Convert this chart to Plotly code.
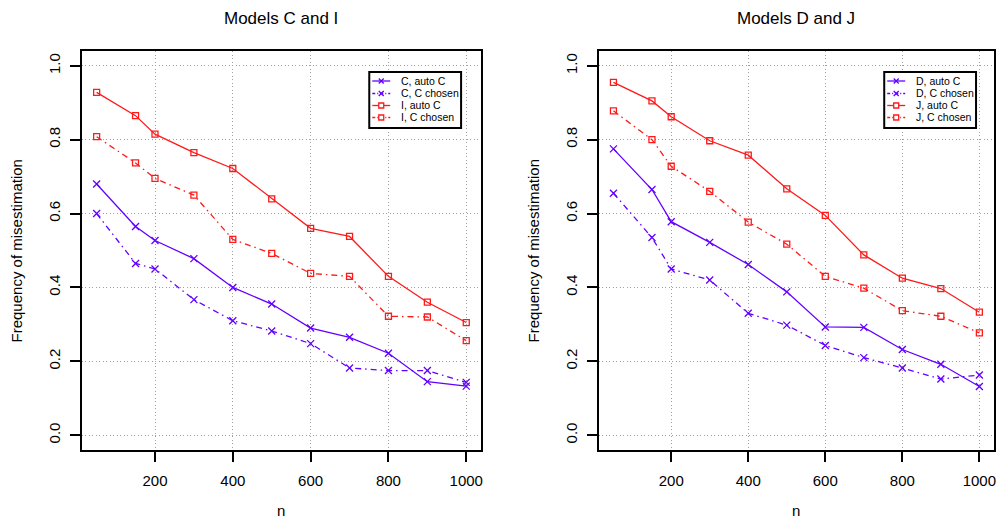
import plotly.graph_objects as go

# ---- data ----
n_values = [50, 150, 200, 300, 400, 500, 600, 700, 800, 900, 1000]

C_auto = [0.680, 0.565, 0.527, 0.478, 0.400, 0.355, 0.290, 0.265, 0.222, 0.145, 0.133]
C_chosen = [0.600, 0.465, 0.450, 0.367, 0.310, 0.282, 0.248, 0.182, 0.175, 0.175, 0.143]
I_auto = [0.928, 0.865, 0.815, 0.765, 0.722, 0.640, 0.560, 0.538, 0.430, 0.360, 0.305]
I_chosen = [0.808, 0.737, 0.695, 0.650, 0.530, 0.492, 0.438, 0.430, 0.322, 0.320, 0.256]

D_auto = [0.775, 0.665, 0.578, 0.522, 0.462, 0.388, 0.293, 0.292, 0.232, 0.192, 0.132]
D_chosen = [0.655, 0.535, 0.450, 0.420, 0.330, 0.298, 0.243, 0.210, 0.182, 0.152, 0.163]
J_auto = [0.955, 0.905, 0.862, 0.797, 0.758, 0.667, 0.595, 0.488, 0.425, 0.397, 0.333]
J_chosen = [0.878, 0.800, 0.728, 0.660, 0.577, 0.517, 0.430, 0.398, 0.337, 0.322, 0.277]

x_ticks = [200, 400, 600, 800, 1000]
y_ticks = [0.0, 0.2, 0.4, 0.6, 0.8, 1.0]
y_tick_labels = ["0.0", "0.2", "0.4", "0.6", "0.8", "1.0"]

panel_titles = ["Models C and I", "Models D and J"]
x_title = "n"
y_title = "Frequency of misestimation"

# ---- style / geometry ----
PAGE_OFF = 8                      # default body margin of the html page
W, H = 1006 - 2 * PAGE_OFF, 529 - 2 * PAGE_OFF
BLUE = "#6400ff"
RED = "#ff1a1a"
FONT = "Liberation Sans, Arial, sans-serif"
DASHDOT = "6px,4px,1.5px,4px"


def fx(px):
    return (px - PAGE_OFF) / W


def fy(py):
    return 1 - (py - PAGE_OFF) / H


panels = [
    ([("C, auto C", C_auto, BLUE, "solid", "x"),
      ("C, C chosen", C_chosen, BLUE, DASHDOT, "x"),
      ("I, auto C", I_auto, RED, "solid", "square"),
      ("I, C chosen", I_chosen, RED, DASHDOT, "square")]),
    ([("D, auto C", D_auto, BLUE, "solid", "x"),
      ("D, C chosen", D_chosen, BLUE, DASHDOT, "x"),
      ("J, auto C", J_auto, RED, "solid", "square"),
      ("J, C chosen", J_chosen, RED, DASHDOT, "square")]),
]

left_px = [(82, 482), (600, 996)]
top_px, bottom_px = 51, 450
legend_box = [(370, 462), (886, 978)]   # x extents of the legend boxes
legend_top, legend_bottom = 72, 128
legend_rows = [81, 93.5, 105.5, 117.5]

fig = go.Figure()
shapes = []
annotations = []

for i, series in enumerate(panels):
    sfx = "" if i == 0 else "2"
    for name, vals, col, dash, sym in series:
        fig.add_trace(go.Scatter(
            x=n_values, y=vals, name=name, xaxis="x" + sfx, yaxis="y" + sfx,
            mode="lines+markers", showlegend=False,
            line=dict(color=col, width=1.3, dash=dash),
            marker=dict(symbol="x-thin-open" if sym == "x" else "square-open",
                        size=7 if sym == "x" else 6,
                        color=col, line=dict(color=col, width=1.3)),
        ))

    # manual legend (R-style compact box)
    lx0, lx1 = legend_box[i]
    shapes.append(dict(type="rect", xref="paper", yref="paper",
                       x0=fx(lx0), x1=fx(lx1), y0=fy(legend_bottom), y1=fy(legend_top),
                       line=dict(color="black", width=2), fillcolor="white", layer="above"))
    for (name, vals, col, dash, sym), ry in zip(series, legend_rows):
        sx0, sx1, mx = lx0 + 3, lx0 + 21, lx0 + 12
        shapes.append(dict(type="line", xref="paper", yref="paper",
                           x0=fx(sx0), x1=fx(sx1), y0=fy(ry), y1=fy(ry),
                           line=dict(color=col, width=1.3,
                                     dash="3px,2px,1px,2px" if dash != "solid" else "solid"),
                           layer="above"))
        h = 2.5
        if sym == "x":
            shapes.append(dict(type="line", xref="paper", yref="paper",
                               x0=fx(mx - h), x1=fx(mx + h), y0=fy(ry - h), y1=fy(ry + h),
                               line=dict(color=col, width=1.3), layer="above"))
            shapes.append(dict(type="line", xref="paper", yref="paper",
                               x0=fx(mx - h), x1=fx(mx + h), y0=fy(ry + h), y1=fy(ry - h),
                               line=dict(color=col, width=1.3), layer="above"))
        else:
            shapes.append(dict(type="rect", xref="paper", yref="paper",
                               x0=fx(mx - h), x1=fx(mx + h), y0=fy(ry + h), y1=fy(ry - h),
                               line=dict(color=col, width=1.3), fillcolor="white",
                               layer="above"))
        annotations.append(dict(text=name, x=fx(lx0 + 30), y=fy(ry), xref="paper", yref="paper",
                                showarrow=False, xanchor="left", yanchor="middle",
                                font=dict(size=10.5, family=FONT, color="black")))

axis_common = dict(
    showline=True, linecolor="black", linewidth=1.6, mirror=True,
    ticks="outside", ticklen=10, tickwidth=1.6, tickcolor="black",
    showgrid=True, gridcolor="#a0a0a0", griddash="1px,2.5px", gridwidth=1,
    zeroline=False, tickfont=dict(family=FONT, size=15, color="black"),
)

layout = dict(
    width=W, height=H,
    margin=dict(l=0, r=0, t=0, b=0),
    paper_bgcolor="white", plot_bgcolor="white",
    font=dict(family=FONT, color="black"),
    showlegend=False,
)

for i, (l, r) in enumerate(left_px):
    sfx = "" if i == 0 else "2"
    layout["xaxis" + sfx] = dict(
        axis_common, domain=[fx(l), fx(r)], range=[12, 1038],
        tickvals=x_ticks, anchor="y" + sfx, ticklabelstandoff=6,
    )
    layout["yaxis" + sfx] = dict(
        axis_common, domain=[fy(bottom_px), fy(top_px)], range=[-0.04, 1.04],
        tickvals=y_ticks, ticktext=y_tick_labels, tickangle=-90,
        anchor="x" + sfx, ticklabelstandoff=4,
    )
    cx = fx((l + r) / 2)
    annotations += [
        dict(text=panel_titles[i], x=cx, y=fy(18), xref="paper", yref="paper",
             showarrow=False, font=dict(size=17, family=FONT), xanchor="center", yanchor="middle"),
        dict(text=x_title, x=cx, y=fy(510), xref="paper", yref="paper",
             showarrow=False, font=dict(size=15, family=FONT), xanchor="center", yanchor="middle"),
        dict(text=y_title, x=fx(l - 65), y=fy((top_px + bottom_px) / 2),
             xref="paper", yref="paper", textangle=-90,
             showarrow=False, font=dict(size=15, family=FONT), xanchor="center", yanchor="middle"),
    ]

layout["shapes"] = shapes
layout["annotations"] = annotations

fig.update_layout(**layout)
fig.write_html("out.html")
